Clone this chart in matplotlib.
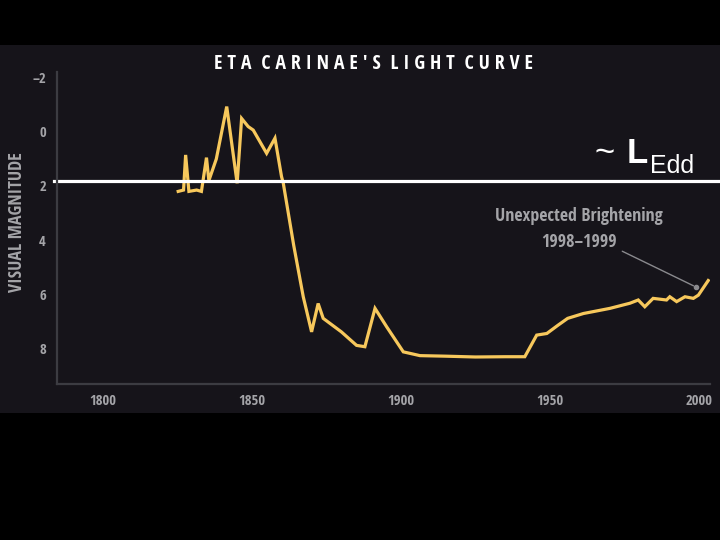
import matplotlib
matplotlib.use('Agg')
import matplotlib.pyplot as plt
from matplotlib import font_manager
from matplotlib.patches import Rectangle

# light curve (year, visual magnitude)
years = [1825.2, 1827.0, 1827.7, 1828.8, 1831.4, 1833.0, 1834.7, 1835.5, 1838.0,
         1841.5, 1845.0, 1846.5, 1848.7, 1850.4, 1854.9, 1857.7, 1859.9, 1860.5,
         1864.0, 1867.2, 1870.0, 1872.2, 1873.9, 1880.0, 1885.1, 1887.9, 1891.3,
         1895.2, 1900.8, 1906.4, 1915.0, 1925.0, 1935.0, 1941.6, 1945.6, 1949.0,
         1952.8, 1956.0, 1961.3, 1964.6, 1970.2, 1976.9, 1979.7, 1981.9, 1984.7,
         1989.2, 1990.3, 1992.6, 1995.4, 1998.2, 1999.9, 2003.2]
mags = [2.2, 2.15, 0.85, 2.2, 2.15, 2.2, 0.95, 1.8, 1.0,
        -0.94, 1.9, -0.5, -0.2, -0.07, 0.79, 0.23, 1.65, 1.9,
        4.2, 6.1, 7.4, 6.35, 6.9, 7.4, 7.9, 7.95, 6.53,
        7.21, 8.14, 8.28, 8.3, 8.33, 8.32, 8.32, 7.52, 7.46,
        7.15, 6.9, 6.72, 6.65, 6.53, 6.34, 6.22, 6.47, 6.16,
        6.22, 6.1, 6.28, 6.1, 6.16, 6.04, 5.5]

x_ticks = [1800, 1850, 1900, 1950, 2000]
y_ticks = [-2, 0, 2, 4, 6, 8]
edd_level = 1.8
arrow_from = (1973.5, 4.37)
arrow_to = (1999.1, 5.74)


def pick_condensed():
    names = set(f.name for f in font_manager.fontManager.ttflist)
    for fam in ['Liberation Sans Narrow', 'Open Sans Condensed', 'Roboto Condensed']:
        if fam in names:
            return fam, 'normal'
    for f in font_manager.fontManager.ttflist:
        if f.name == 'DejaVu Sans' and f.stretch == 'condensed':
            return 'DejaVu Sans', 'condensed'
    return 'DejaVu Sans', 'normal'


cond_family, cond_stretch = pick_condensed()
gray = '#a4a4a8'

fig = plt.figure(figsize=(7.2, 5.4), dpi=100, facecolor='black')

# dark grey panel behind the chart
fig.patches.append(Rectangle((0, 127 / 540), 1, 368 / 540, transform=fig.transFigure,
                             facecolor='#16141a', edgecolor='none', zorder=-5))

ax = fig.add_axes([57 / 720, 156 / 540, 653 / 720, 312 / 540])
ax.set_facecolor('none')
ax.plot(years, mags, color='#f7c85c', linewidth=2.3, solid_joinstyle='miter')

ax.set_xlim(1784.5, 2003.8)
ax.set_ylim(9.33, -2.22)
ax.set_xticks(x_ticks)
ax.set_yticks(y_ticks)
ax.set_xticklabels([str(t) for t in x_ticks])
ax.set_yticklabels([str(t).replace('-', '\u2013') for t in y_ticks])
ax.tick_params(length=0, colors=gray, labelsize=10.5)
ax.tick_params(axis='x', pad=7)
ax.tick_params(axis='y', pad=8)
for lab in ax.get_xticklabels() + ax.get_yticklabels():
    lab.set_family(cond_family)
    lab.set_stretch(cond_stretch)
    lab.set_weight('bold')

for side in ['top', 'right']:
    ax.spines[side].set_visible(False)
for side in ['left', 'bottom']:
    ax.spines[side].set_color('#3c3c42')
    ax.spines[side].set_linewidth(1.6)

# Eddington level line
ax.axhline(edd_level, xmin=-0.005, xmax=1.02, color='white', linewidth=2.3, clip_on=False)

ax.annotate('', xy=arrow_to, xytext=arrow_from,
            arrowprops=dict(arrowstyle='-', color='#8a8a8e', linewidth=1.0))
ax.plot([arrow_to[0]], [arrow_to[1]], marker='o', markersize=3, color='#8a8a8e')

ax.text(1959.8, 3.6, 'Unexpected Brightening\n1998\u20131999', color=gray,
        ha='center', va='center', fontsize=13, fontweight='bold',
        family=cond_family, fontstretch=cond_stretch, linespacing=1.55)

fig.text(373 / 720, 1 - 64 / 540, "E T A  C A R I N A E ' S  L I G H T  C U R V E",
         color='white', ha='center', va='center', fontsize=14.3, fontweight='bold',
         family=cond_family, fontstretch=cond_stretch)

fig.text(17 / 720, 1 - 222 / 540, 'VISUAL MAGNITUDE', color=gray, rotation=90,
         ha='center', va='center', fontsize=13, fontweight='bold',
         family=cond_family, fontstretch=cond_stretch)

fig.text(595 / 720, 1 - 163 / 540, '~', color='white', ha='left', va='baseline',
         fontsize=25, family='Liberation Sans')
fig.text(627 / 720, 1 - 163 / 540, 'L', color='white', ha='left', va='baseline',
         fontsize=25, fontweight='bold', family='Liberation Sans')
fig.text(650 / 720, 1 - 173 / 540, 'Edd', color='white', ha='left', va='baseline',
         fontsize=18, family='Liberation Sans')

fig.savefig('out.png', dpi=100, facecolor='black')
